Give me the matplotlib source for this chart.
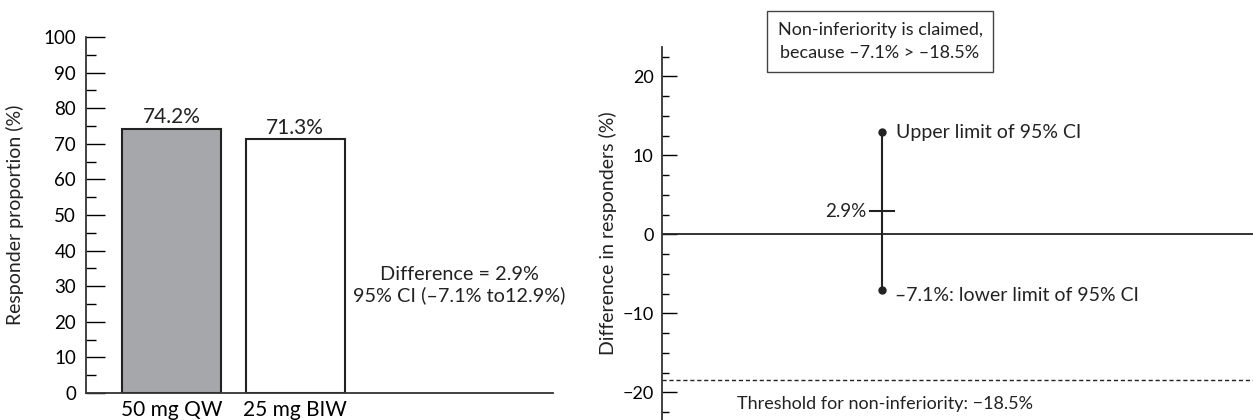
import matplotlib
matplotlib.use('Agg')
from matplotlib import pyplot as plt
from matplotlib.ticker import MultipleLocator

plt.rcParams['font.family'] = ['Lato', 'DejaVu Sans']

# Left panel data
groups = ['50 mg QW', '25 mg BIW']
responders = [74.2, 71.3]
bar_colors = ['#a6a7aa', 'white']

# Right panel data
diff = 2.9
ci_low = -7.1
ci_high = 12.9
threshold = -18.5

fig = plt.figure(figsize=(12.53, 4.2), dpi=100)

# Responder proportions
ax1 = fig.add_axes([0.0686, 0.0643, 0.3727, 0.8476])
xs = range(len(groups))
ax1.bar(xs, responders, width=0.8, color=bar_colors, edgecolor='#222222', linewidth=1.5)
for x, v in zip(xs, responders):
  ax1.annotate('%.1f%%' % v, (x, v), xytext=(0, 1), textcoords='offset points',
               ha='center', va='bottom', fontsize=15, color='#222222')
ax1.set_xlim(-0.69, 3.08)
ax1.set_ylim(0, 100)
ax1.set_xticks(list(xs))
ax1.set_xticklabels(groups)
ax1.yaxis.set_major_locator(MultipleLocator(10))
ax1.yaxis.set_minor_locator(MultipleLocator(5))
ax1.tick_params(axis='y', which='major', direction='in', length=14, width=1, pad=7, labelsize=13.5)
ax1.tick_params(axis='y', which='minor', direction='in', length=7, width=1)
ax1.tick_params(axis='x', length=0, pad=5, labelsize=15)
for s in ['top', 'right']:
  ax1.spines[s].set_visible(False)
for s in ['left', 'bottom']:
  ax1.spines[s].set_linewidth(1.3)
  ax1.spines[s].set_color('#333333')
ax1.set_ylabel('Responder proportion (%)', fontsize=14, color='#222222')
ax1.yaxis.set_label_coords(-0.133, 0.5)
ax1.text(0.80, 0.303, 'Difference = %.1f%%\n95%% CI (\u2013%.1f%% to%.1f%%)' % (diff, -ci_low, ci_high),
         transform=ax1.transAxes, ha='center', va='center', fontsize=14.3,
         linespacing=1.25, color='#222222')

# Difference with 95% CI
ax2 = fig.add_axes([0.5283, 0.0, 0.4717, 0.888])
px = 0.372
ax2.axhline(0, color='#222222', linewidth=1.3)
ax2.axhline(threshold, color='#222222', linewidth=1, linestyle=(0, (3, 2)))
ax2.plot([px, px], [ci_low, ci_high], color='#222222', linewidth=1.5)
ax2.plot([px, px], [ci_low, ci_high], 'o', color='#222222', markersize=5)
ax2.plot([px - 0.02, px + 0.02], [diff, diff], color='#222222', linewidth=1.5)
ax2.set_xlim(0, 1)
ax2.set_ylim(-23.5, 23.7)
ax2.set_xticks([])
ax2.yaxis.set_major_locator(MultipleLocator(10))
ax2.yaxis.set_minor_locator(MultipleLocator(2.5))
ax2.tick_params(axis='y', which='major', direction='in', length=11, width=1, pad=6, labelsize=13)
ax2.tick_params(axis='y', which='minor', direction='in', length=5, width=1)
for s in ['top', 'right', 'bottom']:
  ax2.spines[s].set_visible(False)
ax2.spines['left'].set_linewidth(1.3)
ax2.spines['left'].set_color('#333333')
ax2.set_ylabel('Difference in responders (%)', fontsize=14, color='#222222')
ax2.yaxis.set_label_coords(-0.076, 0.5)

ax2.text(px + 0.024, ci_high, 'Upper limit of 95% CI', ha='left', va='center', fontsize=14, color='#222222')
ax2.text(px + 0.022, ci_low - 0.6, '\u2013%.1f%%: lower limit of 95%% CI' % -ci_low,
         ha='left', va='center', fontsize=14, color='#222222')
ax2.text(px - 0.027, diff, '%.1f%%' % diff, ha='right', va='center', fontsize=13.5, color='#222222')
ax2.text(px + 0.005, -21.5, 'Threshold for non-inferiority: \u2212%.1f%%' % -threshold,
         ha='center', va='center', fontsize=13, color='#222222')
ax2.text(px - 0.003, 24.4, 'Non-inferiority is claimed,\nbecause \u2013%.1f%% > \u2013%.1f%%' % (-ci_low, -threshold),
         ha='center', va='center', fontsize=13, color='#222222', linespacing=1.55, clip_on=False,
         bbox=dict(boxstyle='square,pad=0.6', facecolor='white', edgecolor='#444444', linewidth=1))

plt.savefig('out.png', dpi=100)
